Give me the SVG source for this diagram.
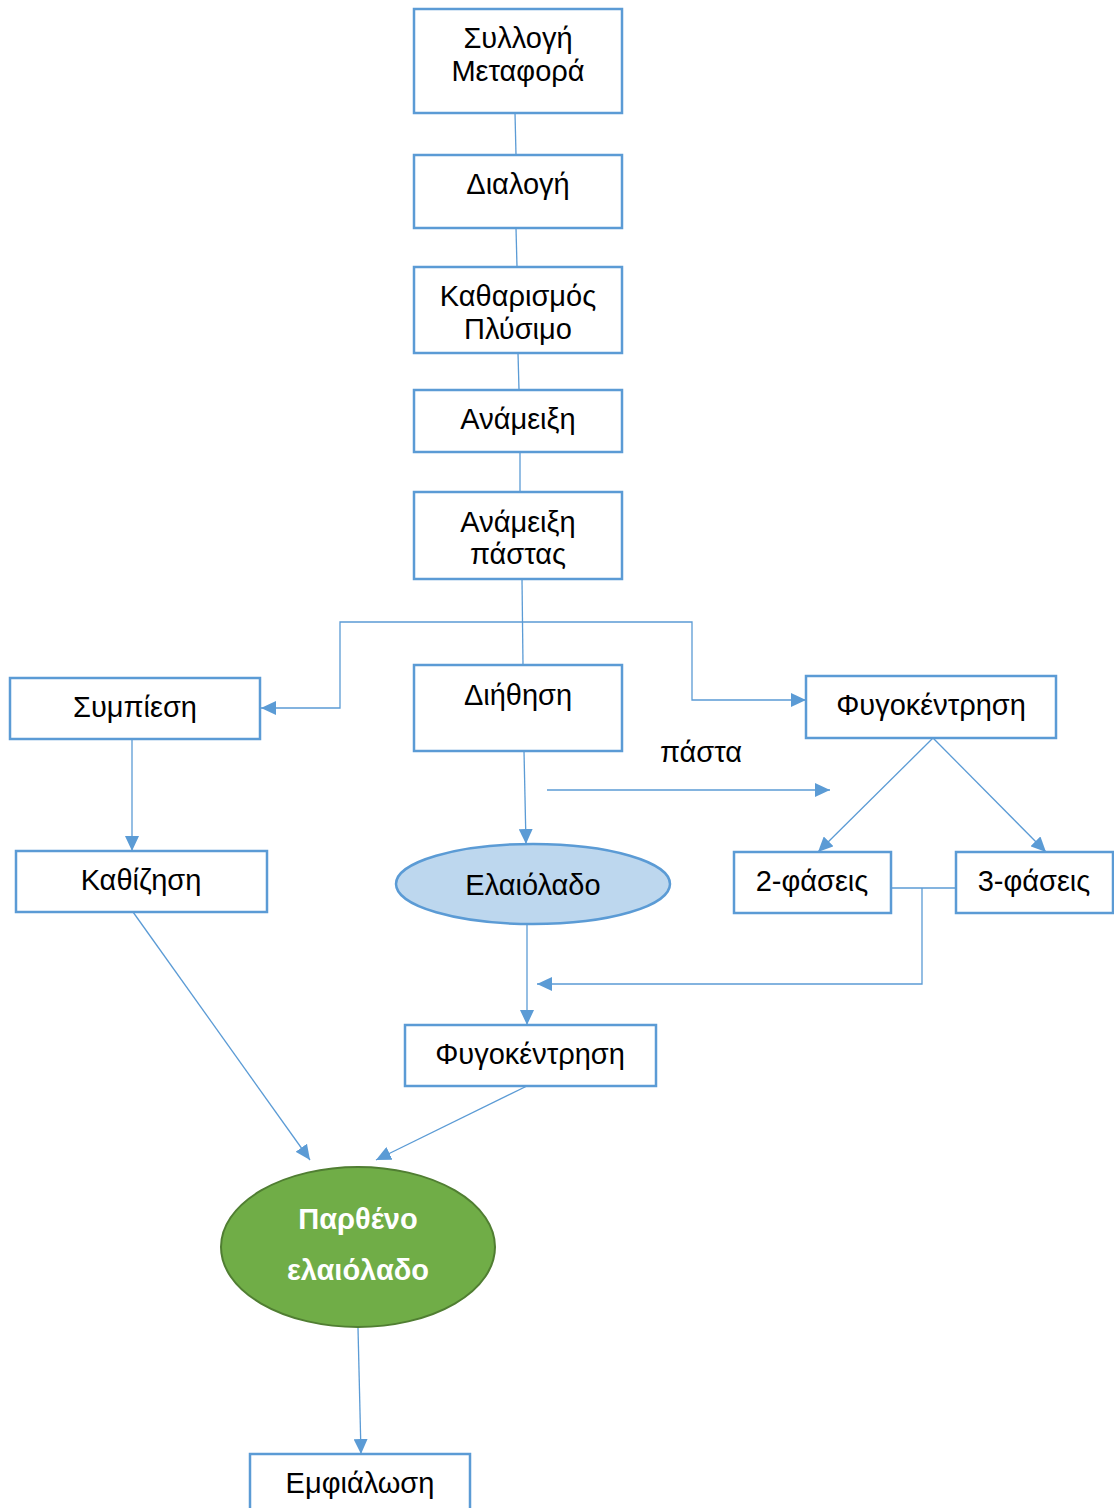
<svg xmlns="http://www.w3.org/2000/svg" width="1114" height="1508" viewBox="0 0 1114 1508">
<defs>
<marker id="ah" markerUnits="userSpaceOnUse" markerWidth="16" markerHeight="14" refX="15" refY="7" orient="auto">
<path d="M0,0 L15,7 L0,14 z" fill="#5B9BD5"/>
</marker>
<style>
.box{fill:#fff;stroke:#5B9BD5;stroke-width:2.5}
.t{font-family:"Liberation Sans",Arial,sans-serif;font-size:29px;fill:#000;text-anchor:middle}
.c{fill:none;stroke:#5B9BD5;stroke-width:1.3}
.a{fill:none;stroke:#5B9BD5;stroke-width:1.3;marker-end:url(#ah)}
</style>
</defs>
<rect width="1114" height="1508" fill="#fff"/>
<g id="connectors">
<line class="c" x1="515" y1="113" x2="516" y2="155"/>
<line class="c" x1="516" y1="228" x2="517" y2="267"/>
<line class="c" x1="518" y1="353" x2="519" y2="390"/>
<line class="c" x1="520" y1="452" x2="520" y2="492"/>
<line class="c" x1="522" y1="579" x2="523" y2="665"/>
<polyline class="a" points="522,622 340,622 340,708 261,708"/>
<polyline class="a" points="522,622 692,622 692,700 806,700"/>
<line class="a" x1="547" y1="790" x2="830" y2="790"/>
<line class="a" x1="132" y1="739" x2="132" y2="851"/>
<line class="a" x1="524" y1="751" x2="526" y2="844"/>
<line class="a" x1="933" y1="738" x2="818" y2="852"/>
<line class="a" x1="933" y1="738" x2="1046" y2="852"/>
<line class="c" x1="891" y1="888" x2="956" y2="888"/>
<polyline class="a" points="922,888 922,984 537,984"/>
<line class="a" x1="527" y1="925" x2="527" y2="1025"/>
<line class="a" x1="133" y1="912" x2="310" y2="1160"/>
<line class="a" x1="527" y1="1086" x2="376" y2="1160"/>
<line class="a" x1="358" y1="1328" x2="361" y2="1454"/>
</g>
<g id="n1"><rect class="box" x="414" y="9" width="208" height="104"/><text class="t" x="518" y="48">Συλλογή</text><text class="t" x="518" y="81">Μεταφορά</text></g>
<g id="n2"><rect class="box" x="414" y="155" width="208" height="73"/><text class="t" x="518" y="194">Διαλογή</text></g>
<g id="n3"><rect class="box" x="414" y="267" width="208" height="86"/><text class="t" x="518" y="306">Καθαρισμός</text><text class="t" x="518" y="339">Πλύσιμο</text></g>
<g id="n4"><rect class="box" x="414" y="390" width="208" height="62"/><text class="t" x="518" y="429">Ανάμειξη</text></g>
<g id="n5"><rect class="box" x="414" y="492" width="208" height="87"/><text class="t" x="518" y="532">Ανάμειξη</text><text class="t" x="518" y="564">πάστας</text></g>
<g id="n6"><rect class="box" x="10" y="678" width="250" height="61"/><text class="t" x="135" y="717">Συμπίεση</text></g>
<g id="n7"><rect class="box" x="414" y="665" width="208" height="86"/><text class="t" x="518" y="705">Διήθηση</text></g>
<g id="n8"><rect class="box" x="806" y="676" width="250" height="62"/><text class="t" x="931" y="715">Φυγοκέντρηση</text></g>
<g id="lbl"><text class="t" x="701" y="762">πάστα</text></g>
<g id="n9"><rect class="box" x="16" y="851" width="251" height="61"/><text class="t" x="141" y="890">Καθίζηση</text></g>
<g id="n10"><ellipse cx="533" cy="884" rx="137" ry="40" fill="#BDD7EE" stroke="#5B9BD5" stroke-width="2.5"/><text class="t" x="533" y="895">Ελαιόλαδο</text></g>
<g id="n11"><rect class="box" x="734" y="852" width="157" height="61"/><text class="t" x="812" y="891">2-φάσεις</text></g>
<g id="n12"><rect class="box" x="956" y="852" width="157" height="61"/><text class="t" x="1034" y="891">3-φάσεις</text></g>
<g id="n13"><rect class="box" x="405" y="1025" width="251" height="61"/><text class="t" x="530" y="1064">Φυγοκέντρηση</text></g>
<g id="n14"><ellipse cx="358" cy="1247" rx="137" ry="80" fill="#70AD47" stroke="#507E32" stroke-width="2"/><text class="t" x="358" y="1229" style="fill:#fff;font-weight:bold">Παρθένο</text><text class="t" x="358" y="1280" style="fill:#fff;font-weight:bold">ελαιόλαδο</text></g>
<g id="n15"><rect class="box" x="250" y="1454" width="220" height="60"/><text class="t" x="360" y="1493">Εμφιάλωση</text></g>
</svg>
